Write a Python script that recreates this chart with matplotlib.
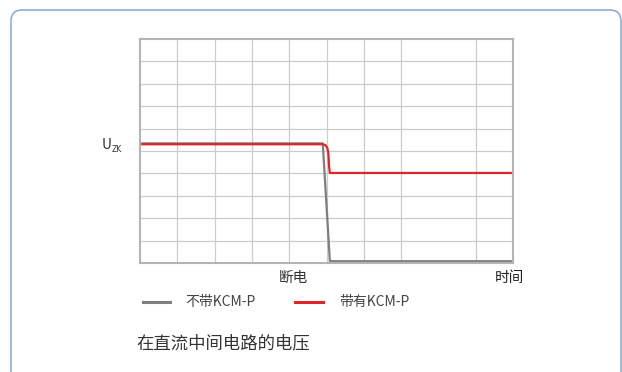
"""DC-link voltage after power loss, with and without KCM-P."""

import matplotlib

matplotlib.use("Agg")
import matplotlib.pyplot as plt
from matplotlib.lines import Line2D
from matplotlib.patches import FancyBboxPatch
from matplotlib.transforms import IdentityTransform

plt.rcParams["font.family"] = ["Noto Sans CJK SC", "DejaVu Sans"]

# data (x: time in grid units, y: voltage in grid units)
series_labels = ["不带KCM-P", "带有KCM-P"]
series_colors = ["#7f7f7f", "#e0242a"]
gray_x = [0.0, 4.9, 5.09, 10.0]
gray_y = [5.34, 5.34, 0.08, 0.08]
red_x = [0.03, 4.9, 4.97, 5.02, 5.05, 5.07, 5.09, 9.97]
red_y = [5.3, 5.3, 5.26, 5.15, 4.9, 4.3, 4.02, 4.02]
x_grid = [1, 2, 3, 4, 5, 6, 7, 9]
y_grid = [1, 2, 3, 4, 5, 6, 7, 8, 9]

W, H = 622, 372


def px(x, y):
    """pixel (from top-left) -> figure fraction"""
    return x / W, 1 - y / H


fig = plt.figure(figsize=(W / 100, H / 100), dpi=100)

# rounded frame around the whole graphic
frame = FancyBboxPatch((11, -30), 610, 392, boxstyle="round,pad=0,rounding_size=11",
                       fill=False, edgecolor="#86a6d8", linewidth=1.1,
                       transform=IdentityTransform())
fig.add_artist(frame)

ax = fig.add_axes([140 / W, 1 - 263 / H, 373 / W, 224 / H])
ax.set_xlim(0, 10)
ax.set_ylim(0, 10)
ax.set_xticks(x_grid)
ax.set_yticks(y_grid)
ax.tick_params(length=0, labelbottom=False, labelleft=False)
ax.grid(True, color="#cccccc", linewidth=0.9)
for s in ax.spines.values():
    s.set_color("#b4b4b4")
    s.set_linewidth(1.5)

ax.plot(gray_x, gray_y, color=series_colors[0], linewidth=1.6, solid_capstyle="butt")
ax.plot(red_x, red_y, color=series_colors[1], linewidth=1.6, solid_capstyle="butt")

# axis annotations
fig.text(*px(102, 145), "U", fontsize=10, color="#333333", va="center", ha="left")
fig.text(*px(112, 149), "ZK", fontsize=5.5, color="#333333", va="center", ha="left",
         family="DejaVu Sans")
fig.text(*px(293, 278), "断电", fontsize=10.5, color="#333333", ha="center", va="center")
fig.text(*px(509, 278), "时间", fontsize=10.5, color="#222222", ha="center", va="center")

# legend
legend_line_x = [(143, 170), (295, 323)]
legend_text_x = [185, 339]
for (x0, x1), tx, lab, col in zip(legend_line_x, legend_text_x, series_labels, series_colors):
    fig.add_artist(Line2D([x0 / W, x1 / W], [1 - 302 / H] * 2, color=col, linewidth=2.2,
                          transform=fig.transFigure))
    fig.text(*px(tx, 302), lab, fontsize=10, color="#444444", ha="left", va="center")

fig.text(*px(136, 343), "在直流中间电路的电压", fontsize=12.5, color="#333333",
         ha="left", va="center")

fig.savefig("out.png", dpi=100)
